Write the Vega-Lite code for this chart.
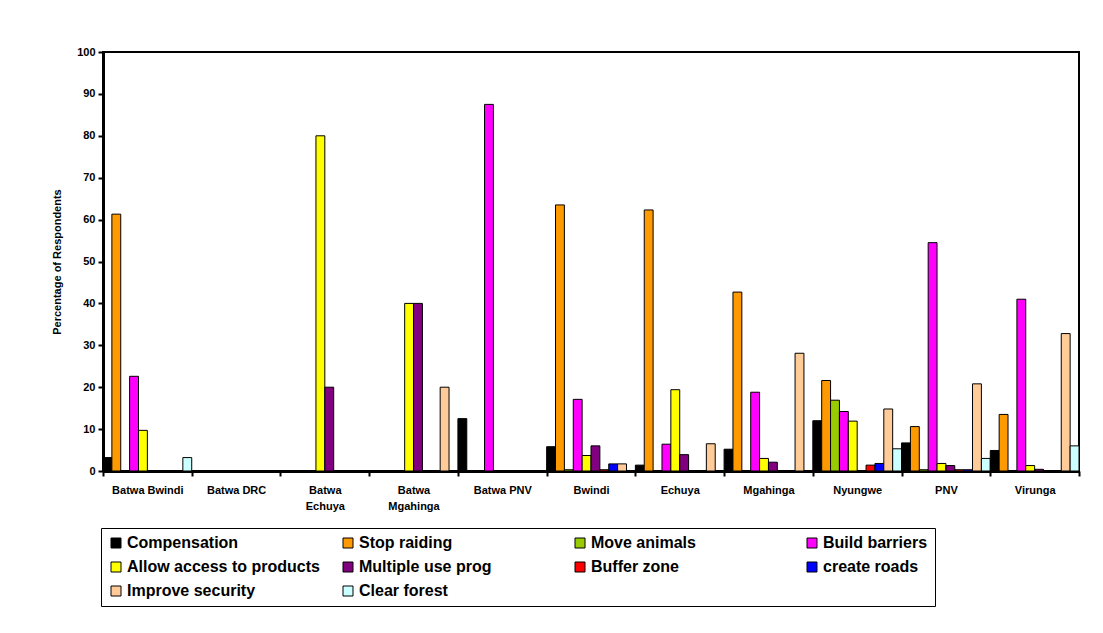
{
  "$schema": "https://vega.github.io/schema/vega-lite/v6.json",
  "width": 976,
  "height": 419,
  "autosize": {"type": "none"},
  "padding": {"left": 103, "top": 52, "right": 24, "bottom": 162},
  "background": "white",
  "config": {
    "view": {"stroke": "#000000", "strokeWidth": 2},
    "font": "Liberation Sans",
    "axis": {"grid": false, "labelFont": "Liberation Sans", "titleFont": "Liberation Sans"}
  },
  "data": {"values": [
    {"site": "Batwa Bwindi", "response": "Compensation", "pct": 3.2},
    {"site": "Batwa Bwindi", "response": "Stop raiding", "pct": 61.3},
    {"site": "Batwa Bwindi", "response": "Move animals", "pct": 0},
    {"site": "Batwa Bwindi", "response": "Build barriers", "pct": 22.6},
    {"site": "Batwa Bwindi", "response": "Allow access to products", "pct": 9.7},
    {"site": "Batwa Bwindi", "response": "Multiple use prog", "pct": 0},
    {"site": "Batwa Bwindi", "response": "Buffer zone", "pct": 0},
    {"site": "Batwa Bwindi", "response": "create roads", "pct": 0},
    {"site": "Batwa Bwindi", "response": "Improve security", "pct": 0},
    {"site": "Batwa Bwindi", "response": "Clear forest", "pct": 3.2},
    {"site": "Batwa DRC", "response": "Compensation", "pct": 0},
    {"site": "Batwa DRC", "response": "Stop raiding", "pct": 0},
    {"site": "Batwa DRC", "response": "Move animals", "pct": 0},
    {"site": "Batwa DRC", "response": "Build barriers", "pct": 0},
    {"site": "Batwa DRC", "response": "Allow access to products", "pct": 0},
    {"site": "Batwa DRC", "response": "Multiple use prog", "pct": 0},
    {"site": "Batwa DRC", "response": "Buffer zone", "pct": 0},
    {"site": "Batwa DRC", "response": "create roads", "pct": 0},
    {"site": "Batwa DRC", "response": "Improve security", "pct": 0},
    {"site": "Batwa DRC", "response": "Clear forest", "pct": 0},
    {"site": "Batwa Echuya", "response": "Compensation", "pct": 0},
    {"site": "Batwa Echuya", "response": "Stop raiding", "pct": 0},
    {"site": "Batwa Echuya", "response": "Move animals", "pct": 0},
    {"site": "Batwa Echuya", "response": "Build barriers", "pct": 0},
    {"site": "Batwa Echuya", "response": "Allow access to products", "pct": 80},
    {"site": "Batwa Echuya", "response": "Multiple use prog", "pct": 20},
    {"site": "Batwa Echuya", "response": "Buffer zone", "pct": 0},
    {"site": "Batwa Echuya", "response": "create roads", "pct": 0},
    {"site": "Batwa Echuya", "response": "Improve security", "pct": 0},
    {"site": "Batwa Echuya", "response": "Clear forest", "pct": 0},
    {"site": "Batwa Mgahinga", "response": "Compensation", "pct": 0},
    {"site": "Batwa Mgahinga", "response": "Stop raiding", "pct": 0},
    {"site": "Batwa Mgahinga", "response": "Move animals", "pct": 0},
    {"site": "Batwa Mgahinga", "response": "Build barriers", "pct": 0},
    {"site": "Batwa Mgahinga", "response": "Allow access to products", "pct": 40},
    {"site": "Batwa Mgahinga", "response": "Multiple use prog", "pct": 40},
    {"site": "Batwa Mgahinga", "response": "Buffer zone", "pct": 0},
    {"site": "Batwa Mgahinga", "response": "create roads", "pct": 0},
    {"site": "Batwa Mgahinga", "response": "Improve security", "pct": 20},
    {"site": "Batwa Mgahinga", "response": "Clear forest", "pct": 0},
    {"site": "Batwa PNV", "response": "Compensation", "pct": 12.5},
    {"site": "Batwa PNV", "response": "Stop raiding", "pct": 0},
    {"site": "Batwa PNV", "response": "Move animals", "pct": 0},
    {"site": "Batwa PNV", "response": "Build barriers", "pct": 87.5},
    {"site": "Batwa PNV", "response": "Allow access to products", "pct": 0},
    {"site": "Batwa PNV", "response": "Multiple use prog", "pct": 0},
    {"site": "Batwa PNV", "response": "Buffer zone", "pct": 0},
    {"site": "Batwa PNV", "response": "create roads", "pct": 0},
    {"site": "Batwa PNV", "response": "Improve security", "pct": 0},
    {"site": "Batwa PNV", "response": "Clear forest", "pct": 0},
    {"site": "Bwindi", "response": "Compensation", "pct": 5.8},
    {"site": "Bwindi", "response": "Stop raiding", "pct": 63.5},
    {"site": "Bwindi", "response": "Move animals", "pct": 0.3},
    {"site": "Bwindi", "response": "Build barriers", "pct": 17.1},
    {"site": "Bwindi", "response": "Allow access to products", "pct": 3.7},
    {"site": "Bwindi", "response": "Multiple use prog", "pct": 6.0},
    {"site": "Bwindi", "response": "Buffer zone", "pct": 0.3},
    {"site": "Bwindi", "response": "create roads", "pct": 1.7},
    {"site": "Bwindi", "response": "Improve security", "pct": 1.7},
    {"site": "Bwindi", "response": "Clear forest", "pct": 0},
    {"site": "Echuya", "response": "Compensation", "pct": 1.4},
    {"site": "Echuya", "response": "Stop raiding", "pct": 62.3},
    {"site": "Echuya", "response": "Move animals", "pct": 0},
    {"site": "Echuya", "response": "Build barriers", "pct": 6.4},
    {"site": "Echuya", "response": "Allow access to products", "pct": 19.4},
    {"site": "Echuya", "response": "Multiple use prog", "pct": 3.9},
    {"site": "Echuya", "response": "Buffer zone", "pct": 0},
    {"site": "Echuya", "response": "create roads", "pct": 0},
    {"site": "Echuya", "response": "Improve security", "pct": 6.5},
    {"site": "Echuya", "response": "Clear forest", "pct": 0},
    {"site": "Mgahinga", "response": "Compensation", "pct": 5.2},
    {"site": "Mgahinga", "response": "Stop raiding", "pct": 42.7},
    {"site": "Mgahinga", "response": "Move animals", "pct": 0},
    {"site": "Mgahinga", "response": "Build barriers", "pct": 18.8},
    {"site": "Mgahinga", "response": "Allow access to products", "pct": 3.0},
    {"site": "Mgahinga", "response": "Multiple use prog", "pct": 2.1},
    {"site": "Mgahinga", "response": "Buffer zone", "pct": 0},
    {"site": "Mgahinga", "response": "create roads", "pct": 0},
    {"site": "Mgahinga", "response": "Improve security", "pct": 28.1},
    {"site": "Mgahinga", "response": "Clear forest", "pct": 0},
    {"site": "Nyungwe", "response": "Compensation", "pct": 12.0},
    {"site": "Nyungwe", "response": "Stop raiding", "pct": 21.6},
    {"site": "Nyungwe", "response": "Move animals", "pct": 16.9},
    {"site": "Nyungwe", "response": "Build barriers", "pct": 14.2},
    {"site": "Nyungwe", "response": "Allow access to products", "pct": 11.9},
    {"site": "Nyungwe", "response": "Multiple use prog", "pct": 0},
    {"site": "Nyungwe", "response": "Buffer zone", "pct": 1.4},
    {"site": "Nyungwe", "response": "create roads", "pct": 1.8},
    {"site": "Nyungwe", "response": "Improve security", "pct": 14.8},
    {"site": "Nyungwe", "response": "Clear forest", "pct": 5.3},
    {"site": "PNV", "response": "Compensation", "pct": 6.7},
    {"site": "PNV", "response": "Stop raiding", "pct": 10.6},
    {"site": "PNV", "response": "Move animals", "pct": 0.3},
    {"site": "PNV", "response": "Build barriers", "pct": 54.5},
    {"site": "PNV", "response": "Allow access to products", "pct": 1.8},
    {"site": "PNV", "response": "Multiple use prog", "pct": 1.3},
    {"site": "PNV", "response": "Buffer zone", "pct": 0.3},
    {"site": "PNV", "response": "create roads", "pct": 0.3},
    {"site": "PNV", "response": "Improve security", "pct": 20.8},
    {"site": "PNV", "response": "Clear forest", "pct": 3.0},
    {"site": "Virunga", "response": "Compensation", "pct": 4.9},
    {"site": "Virunga", "response": "Stop raiding", "pct": 13.5},
    {"site": "Virunga", "response": "Move animals", "pct": 0},
    {"site": "Virunga", "response": "Build barriers", "pct": 41.0},
    {"site": "Virunga", "response": "Allow access to products", "pct": 1.3},
    {"site": "Virunga", "response": "Multiple use prog", "pct": 0.4},
    {"site": "Virunga", "response": "Buffer zone", "pct": 0},
    {"site": "Virunga", "response": "create roads", "pct": 0},
    {"site": "Virunga", "response": "Improve security", "pct": 32.8},
    {"site": "Virunga", "response": "Clear forest", "pct": 6.0}
  ]},
  "mark": {"type": "bar", "stroke": "#000000", "strokeWidth": 1},
  "encoding": {
    "x": {
      "field": "site", "type": "nominal", "sort": null,
      "scale": {"paddingInner": 0, "paddingOuter": 0},
      "axis": {
        "title": null, "labelAngle": 0, "tickBand": "extent",
        "domainColor": "#000000", "domainWidth": 3, "tickColor": "#000000", "tickWidth": 2, "tickSize": 5,
        "labelFontSize": 11, "labelFontWeight": "bold", "labelColor": "#000000", "labelPadding": 8,
        "labelBaseline": "top", "labelLineHeight": 16,
        "labelExpr": "indexof(['Batwa Echuya','Batwa Mgahinga'], datum.label) >= 0 ? split(datum.label, ' ') : datum.label"
      }
    },
    "xOffset": {
      "field": "response", "type": "nominal",
      "sort": ["Compensation", "Stop raiding", "Move animals", "Build barriers", "Allow access to products", "Multiple use prog", "Buffer zone", "create roads", "Improve security", "Clear forest"],
      "scale": {"paddingInner": 0, "paddingOuter": 0}
    },
    "y": {
      "field": "pct", "type": "quantitative",
      "scale": {"domain": [0, 100], "nice": false},
      "axis": {
        "title": "Percentage of Respondents", "values": [0, 10, 20, 30, 40, 50, 60, 70, 80, 90, 100],
        "domainColor": "#000000", "domainWidth": 3, "tickColor": "#000000", "tickWidth": 2, "tickSize": 5,
        "labelFontSize": 11, "labelFontWeight": "bold", "labelColor": "#000000", "labelPadding": 3,
        "titleFontSize": 11, "titleFontWeight": "bold", "titleColor": "#000000", "titlePadding": 14
      }
    },
    "color": {
      "field": "response", "type": "nominal",
      "sort": ["Compensation", "Stop raiding", "Move animals", "Build barriers", "Allow access to products", "Multiple use prog", "Buffer zone", "create roads", "Improve security", "Clear forest"],
      "scale": {
        "domain": ["Compensation", "Stop raiding", "Move animals", "Build barriers", "Allow access to products", "Multiple use prog", "Buffer zone", "create roads", "Improve security", "Clear forest"],
        "range": ["#000000", "#FF9900", "#99CC00", "#FF00FF", "#FFFF00", "#800080", "#FF0000", "#0000FF", "#FFCC99", "#CCFFFF"]
      },
      "legend": {
        "title": null, "orient": "none", "legendX": -2, "legendY": 476,
        "direction": "horizontal", "columns": 4, "gridAlign": "all",
        "symbolType": "square", "symbolSize": 100, "symbolStrokeColor": "#000000", "symbolStrokeWidth": 1, "symbolOpacity": 1,
        "labelFontSize": 16, "labelFontWeight": "bold", "labelColor": "#000000", "labelFont": "Liberation Sans", "labelLimit": 400,
        "labelOffset": 3, "rowPadding": 8, "columnPadding": 20,
        "strokeColor": "#000000", "fillColor": "#FFFFFF", "padding": 7
      }
    }
  }
}
